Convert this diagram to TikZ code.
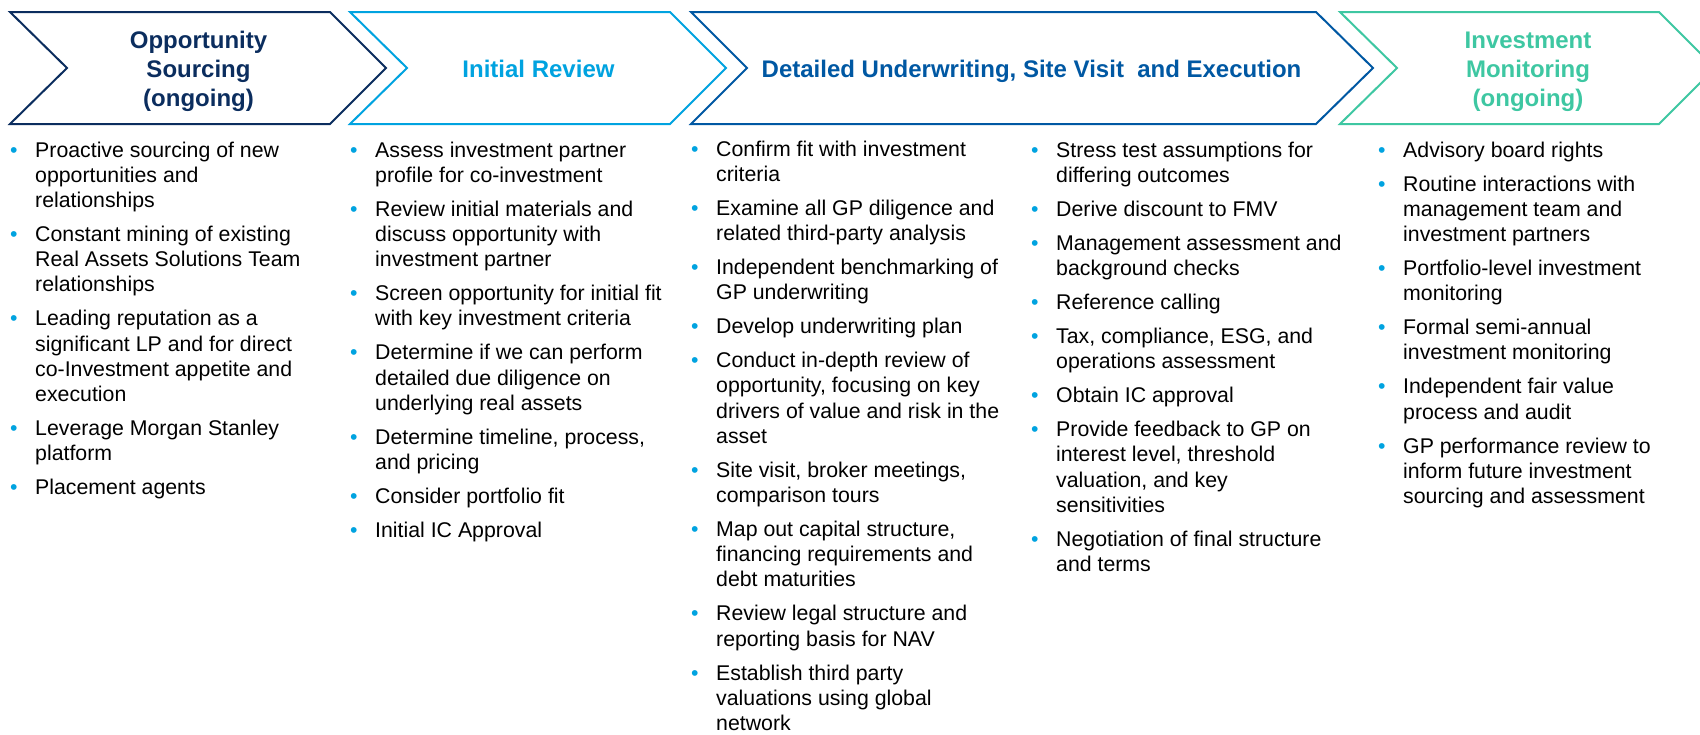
\documentclass[tikz,border=0pt]{standalone}
\usepackage{fontspec}
\setmainfont{Liberation Sans}
\definecolor{navy}{HTML}{0B2D5E}
\definecolor{lblue}{HTML}{00A3E0}
\definecolor{mblue}{HTML}{0058A3}
\definecolor{teal}{HTML}{3EC7A2}
\definecolor{bul}{HTML}{00A3E0}
\newcommand\itm[1]{\par\hangindent=25pt\hangafter=1\noindent\makebox[25pt][l]{\textcolor{bul}{\textbullet}}#1\par}
\newcommand\colbox[1]{\begin{minipage}[t]{330pt}\fontsize{21.3}{25.2}\selectfont\setlength\parskip{8.8pt}\setlength\parindent{0pt}#1\end{minipage}}
\newcommand\hstack[1]{\begin{tabular}[t]{@{}c@{}}#1\end{tabular}}
\begin{document}
\begin{tikzpicture}[x=1pt,y=-1pt,
  chev/.style={line width=2pt, line join=miter, fill=white},
  hdr/.style={font=\fontsize{24}{29}\selectfont\bfseries, inner sep=0, anchor=base},
  colnode/.style={anchor=base west, inner sep=0, font=\fontsize{21.3}{25.2}\selectfont}]
\useasboundingbox (0,0) rectangle (1700,734);
\fill[white] (0,0) rectangle (1700,734);
\begin{scope}
\clip (0,0) rectangle (1700,734);
\draw[chev, draw=navy]  (10,12) -- (330,12) -- (386,68) -- (330,124) -- (10,124) -- (67,68) -- cycle;
\draw[chev, draw=lblue] (350,12) -- (670,12) -- (726,68) -- (670,124) -- (350,124) -- (407,68) -- cycle;
\draw[chev, draw=mblue] (691,12) -- (1316,12) -- (1373,68) -- (1316,124) -- (691,124) -- (747,68) -- cycle;
\draw[chev, draw=teal]  (1340,12) -- (1659,12) -- (1715,68) -- (1659,124) -- (1340,124) -- (1397,68) -- cycle;
\end{scope}
\node[hdr, text=navy] (h1) at (198.5,48.5) {\hstack{Opportunity\\Sourcing\\(ongoing)}};
\node[hdr, text=lblue] (h2) at (538.5,77) {Initial Review};
\node[hdr, text=mblue] (h3) at (1031.5,77) {Detailed Underwriting, Site Visit~ and Execution};
\node[hdr, text=teal] (h4) at (1528,48.5) {\hstack{Investment\\Monitoring\\(ongoing)}};

\node[colnode] (c1) at (10,157) {\colbox{%
\itm{Proactive sourcing of new\\opportunities and\\relationships}
\itm{Constant mining of existing\\Real Assets Solutions Team\\relationships}
\itm{Leading reputation as a\\significant LP and for direct\\co-Investment appetite and\\execution}
\itm{Leverage Morgan Stanley\\platform}
\itm{Placement agents}}};

\node[colnode] (c2) at (350,157) {\colbox{%
\itm{Assess investment partner\\profile for co-investment}
\itm{Review initial materials and\\discuss opportunity with\\investment partner}
\itm{Screen opportunity for initial fit\\with key investment criteria}
\itm{Determine if we can perform\\detailed due diligence on\\underlying real assets}
\itm{Determine timeline, process,\\and pricing}
\itm{Consider portfolio fit}
\itm{Initial IC Approval}}};

\node[colnode] (c3) at (691,156) {\colbox{%
\itm{Confirm fit with investment\\criteria}
\itm{Examine all GP diligence and\\related third-party analysis}
\itm{Independent benchmarking of\\GP underwriting}
\itm{Develop underwriting plan}
\itm{Conduct in-depth review of\\opportunity, focusing on key\\drivers of value and risk in the\\asset}
\itm{Site visit, broker meetings,\\comparison tours}
\itm{Map out capital structure,\\financing requirements and\\debt maturities}
\itm{Review legal structure and\\reporting basis for NAV}
\itm{Establish third party\\valuations using global\\network}}};

\node[colnode] (c4) at (1031,157) {\colbox{%
\itm{Stress test assumptions for\\differing outcomes}
\itm{Derive discount to FMV}
\itm{Management assessment and\\background checks}
\itm{Reference calling}
\itm{Tax, compliance, ESG, and\\operations assessment}
\itm{Obtain IC approval}
\itm{Provide feedback to GP on\\interest level, threshold\\valuation, and key\\sensitivities}
\itm{Negotiation of final structure\\and terms}}};

\node[colnode] (c5) at (1378,157) {\colbox{%
\itm{Advisory board rights}
\itm{Routine interactions with\\management team and\\investment partners}
\itm{Portfolio-level investment\\monitoring}
\itm{Formal semi-annual\\investment monitoring}
\itm{Independent fair value\\process and audit}
\itm{GP performance review to\\inform future investment\\sourcing and assessment}}};
\end{tikzpicture}
\end{document}
